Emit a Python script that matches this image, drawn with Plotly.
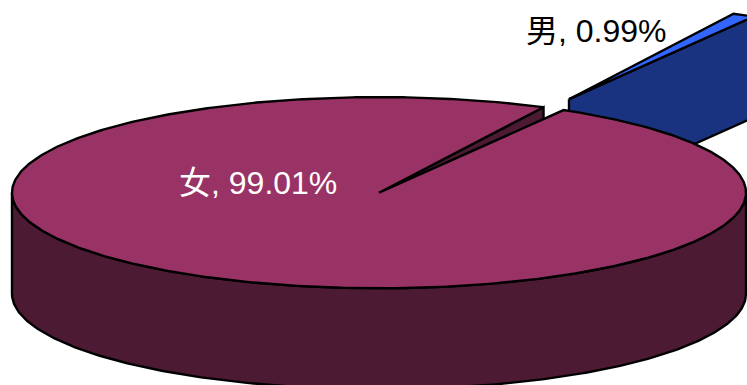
import numpy as np
import plotly.graph_objects as go

# Data
categories = ["女", "男"]
values = [99.01, 0.99]
label_text = ["女, 99.01%", "男, 0.99%"]

# Colours
top_colors = ["#993366", "#3366FF"]
side_colors = ["#4D1A33", "#1A3380"]
text_colors = ["#FFFFFF", "#000000"]

# Projection of the 3-D pie onto the axes
CX, CY = 379.0, 192.7
RX, RY = 367.0, 95.6
DEPTH = 101.0
START = 59.8          # parametric angle where the female slice ends
EXPLODE = (190.0, -93.5)
W, H = 747, 385
LW = 2.4


def pt(a, ox=0.0, oy=0.0, dz=0.0):
    r = np.radians(a)
    return CX + ox + RX * np.cos(r), CY + oy - RY * np.sin(r) + dz


def arc(a0, a1, ox=0.0, oy=0.0, dz=0.0, n=240):
    t = np.linspace(a0, a1, n)
    return pt(t, ox, oy, dz)


def poly(fig, xs, ys, color):
    xs = list(xs) + [xs[0]]
    ys = list(ys) + [ys[0]]
    fig.add_trace(go.Scatter(
        x=xs, y=ys, mode="lines", fill="toself", fillcolor=color,
        line=dict(color="#000000", width=LW, shape="linear"),
        hoverinfo="skip", showlegend=False))


fig = go.Figure()

sweep_m = values[1] / sum(values) * 360.0
a_m0, a_m1 = START, START + sweep_m
a_f0, a_f1 = a_m1, START + 360.0

# Male slice (exploded): cut face then top
ox, oy = EXPLODE
x0, y0 = pt(a_m0, ox, oy)
ax, ay = CX + ox, CY + oy
poly(fig, [ax, x0, x0, ax], [ay, y0, y0 + DEPTH, ay + DEPTH], side_colors[1])
rx, ry = arc(a_m0, a_m1, ox, oy)
poly(fig, [ax] + list(rx), [ay] + list(ry), top_colors[1])

# Female slice: cut face, outer wall, top
x1, y1 = pt(a_f0)
poly(fig, [CX, x1, x1, CX], [CY, y1, y1 + DEPTH, CY + DEPTH], side_colors[0])
tx, ty = arc(180, 360)
bx, by = arc(360, 180, dz=DEPTH)
poly(fig, list(tx) + list(bx), list(ty) + list(by), side_colors[0])
rx, ry = arc(a_f0, a_f1, n=720)
poly(fig, [CX] + list(rx), [CY] + list(ry), top_colors[0])

font_family = "'Liberation Sans', 'Noto Sans CJK SC', sans-serif"
label_pos = [(177, 183), (524, 31)]
for txt, col, (lx, ly) in zip(label_text, text_colors, label_pos):
    fig.add_annotation(x=lx, y=ly, text=txt, showarrow=False, xanchor="left",
                       yanchor="middle", xref="x", yref="y",
                       font=dict(family=font_family, size=32, color=col))

fig.update_layout(
    width=W, height=H, margin=dict(l=0, r=0, t=0, b=0),
    paper_bgcolor="#FFFFFF", plot_bgcolor="#FFFFFF", showlegend=False,
    xaxis=dict(range=[0, W], visible=False, fixedrange=True),
    yaxis=dict(range=[H, 0], visible=False, fixedrange=True),
)
fig.write_html("out.html", config={"displayModeBar": False},
               post_script="document.body.style.margin='0';document.body.style.overflow='hidden';")
